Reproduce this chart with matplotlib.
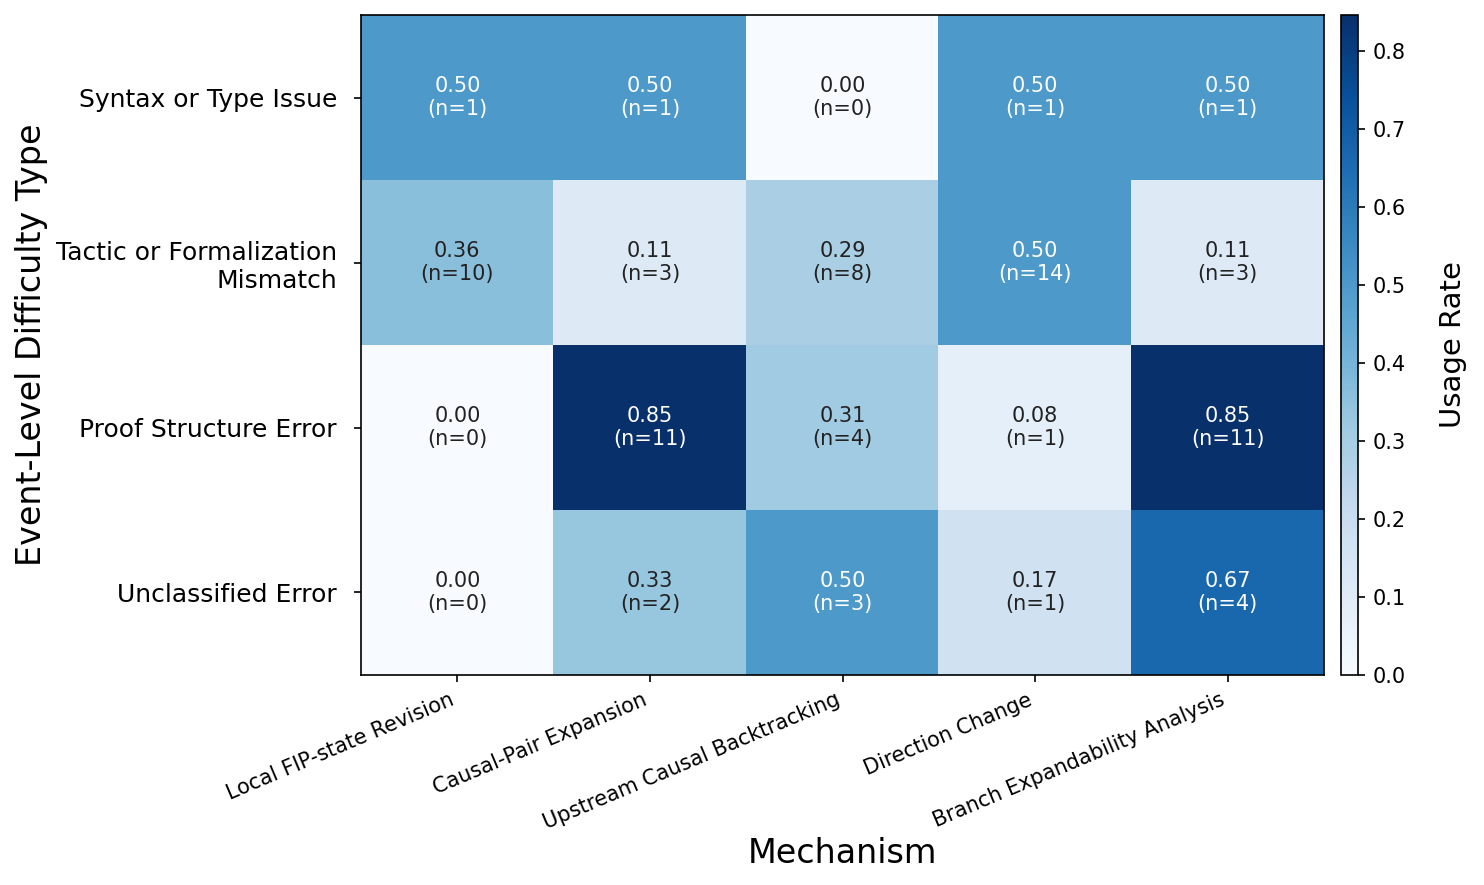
import numpy as np
import matplotlib
matplotlib.use("Agg")
import matplotlib.pyplot as plt

mechanisms = ["Local FIP-state Revision", "Causal-Pair Expansion",
              "Upstream Causal Backtracking", "Direction Change",
              "Branch Expandability Analysis"]
difficulty_types = ["Syntax or Type Issue", "Tactic or Formalization\nMismatch",
                    "Proof Structure Error", "Unclassified Error"]

# number of events using each mechanism, per difficulty type
counts_syntax = [1, 1, 0, 1, 1]
counts_tactic = [10, 3, 8, 14, 3]
counts_structure = [0, 11, 4, 1, 11]
counts_unclassified = [0, 2, 3, 1, 4]
# events per difficulty type
row_totals = [2, 28, 13, 6]

counts = np.array([counts_syntax, counts_tactic, counts_structure, counts_unclassified])
rates = counts / np.array(row_totals)[:, None]

fig = plt.figure(figsize=(1484 / 150, 885 / 150), dpi=150)
ax = fig.add_axes([0.2433, 0.2373, 0.6489, 0.7457])
cax = fig.add_axes([0.9036, 0.2373, 0.01146, 0.7457])

im = ax.imshow(rates, cmap="Blues", aspect="auto", vmin=0, vmax=rates.max())

thresh = rates.max() / 2
for i in range(rates.shape[0]):
    for j in range(rates.shape[1]):
        color = "white" if rates[i, j] > thresh else "#222222"
        ax.text(j, i, f"{rates[i, j]:.2f}\n(n={counts[i, j]})",
                ha="center", va="center", fontsize=10, color=color)

ax.set_xticks(range(len(mechanisms)))
ax.set_xticklabels(mechanisms, rotation=23, ha="right", fontsize=10)
ax.set_yticks(range(len(difficulty_types)))
ax.set_yticklabels(difficulty_types, fontsize=12)
ax.tick_params(axis="y", pad=8)
ax.set_xlabel("Mechanism", fontsize=16, labelpad=2)
ax.set_ylabel("Event-Level Difficulty Type", fontsize=16)

cb = fig.colorbar(im, cax=cax)
cb.set_label("Usage Rate", fontsize=14, labelpad=16)
cb.ax.tick_params(labelsize=10)

fig.savefig("out.png", dpi=150)
